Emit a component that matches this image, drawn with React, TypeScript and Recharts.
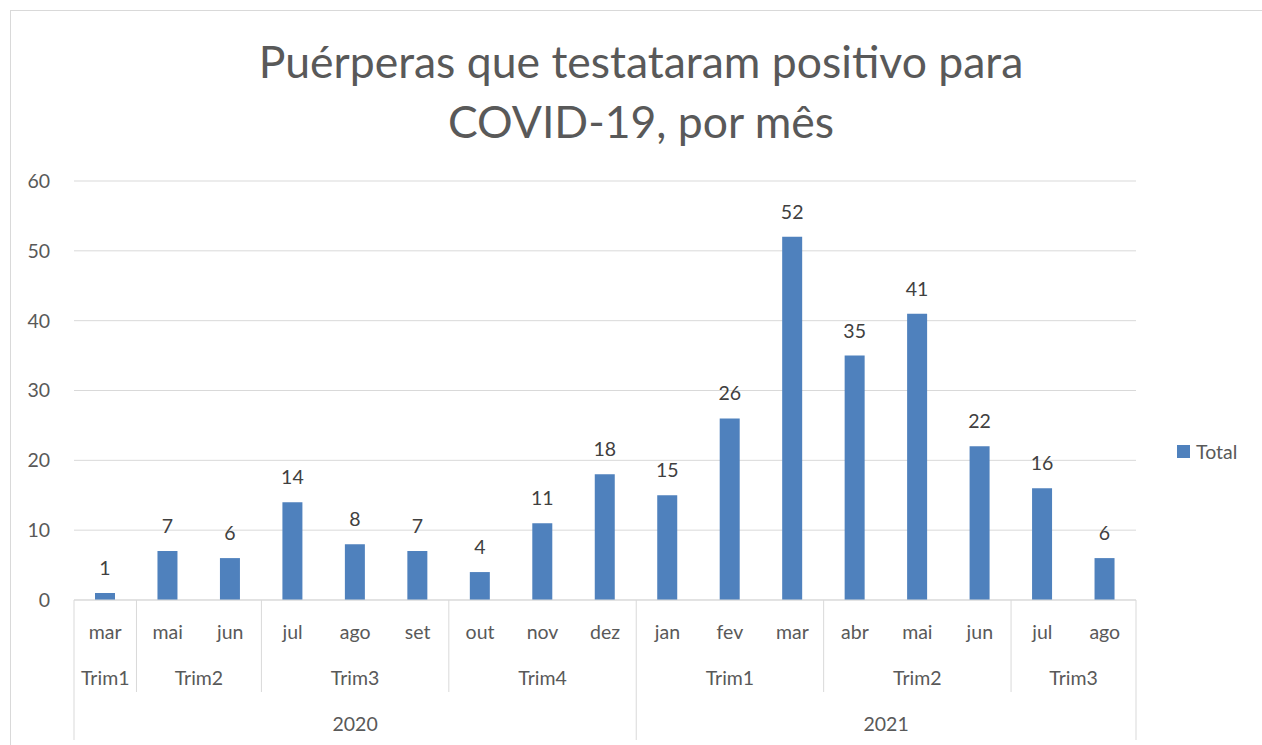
import { Bar, BarChart, CartesianGrid, LabelList, XAxis, YAxis } from "recharts";

const months = ["mar", "mai", "jun", "jul", "ago", "set", "out", "nov", "dez", "jan", "fev", "mar", "abr", "mai", "jun", "jul", "ago"];
const quarters = ["Trim1", "Trim2", "Trim2", "Trim3", "Trim3", "Trim3", "Trim4", "Trim4", "Trim4", "Trim1", "Trim1", "Trim1", "Trim2", "Trim2", "Trim2", "Trim3", "Trim3"];
const years = ["2020", "2020", "2020", "2020", "2020", "2020", "2020", "2020", "2020", "2021", "2021", "2021", "2021", "2021", "2021", "2021", "2021"];
const totals = [1, 7, 6, 14, 8, 7, 4, 11, 18, 15, 26, 52, 35, 41, 22, 16, 6];
const yTicks = [0, 10, 20, 30, 40, 50, 60];

const data = months.map((m, i) => ({ key: `${years[i]}-${quarters[i]}-${m}-${i}`, total: totals[i] }));

const FONT = "Lato, 'Open Sans', sans-serif";
const GRID = "#d9d9d9";
const TEXT = "#595959";

// length of a run of equal values starting at i
function runLength(arr: string[], i: number, parent?: string[]) {
  let n = 1;
  while (i + n < arr.length && arr[i + n] === arr[i] && (!parent || parent[i + n] === parent[i])) n++;
  return n;
}
function isStart(arr: string[], i: number, parent?: string[]) {
  return i === 0 || arr[i - 1] !== arr[i] || (parent ? parent[i - 1] !== parent[i] : false);
}

function MultiTick(props: any) {
  const { x, y, payload, index } = props;
  const off = payload.offset;
  const left = x - off;
  const qStart = isStart(quarters, index, years);
  const yStart = isStart(years, index);
  const last = index === months.length - 1;
  const txt = { fill: TEXT, fontSize: 19.5, fontFamily: FONT, textAnchor: "middle" as const, dominantBaseline: "central" as const };
  return (
    <g>
      <text x={x} y={y + 31} {...txt}>{months[index]}</text>
      {qStart && (
        <>
          <line x1={left} x2={left} y1={y} y2={y + (yStart ? 140 : 92)} stroke={GRID} />
          <text x={left + runLength(quarters, index, years) * off} y={y + 77} {...txt}>{quarters[index]}</text>
        </>
      )}
      {yStart && <text x={left + runLength(years, index) * off} y={y + 123} {...txt}>{years[index]}</text>}
      {last && <line x1={x + off} x2={x + off} y1={y} y2={y + 140} stroke={GRID} />}
    </g>
  );
}

export default function App() {
  return (
    <div style={{ position: "fixed", left: 0, top: 0, width: 1262, height: 745, overflow: "hidden", background: "#fff", fontFamily: FONT }}>
      <div style={{ position: "absolute", left: 10, top: 10, width: 1300, height: 800, border: `1px solid ${GRID}` }} />
      <div style={{ position: "absolute", left: 0, top: 31, width: 1282, textAlign: "center", color: TEXT, fontSize: 44.5, lineHeight: "60px" }}>
        Puérperas que testataram positivo para
        <br />
        COVID-19, por mês
      </div>
      <div style={{ position: "absolute", left: 0, top: 0 }}>
        <BarChart width={1262} height={745} data={data} margin={{ top: 181, right: 126, bottom: 0, left: 14 }}>
          <CartesianGrid vertical={false} stroke={GRID} />
          <XAxis
            dataKey="key"
            interval={0}
            height={145}
            tickSize={0}
            tickMargin={0}
            tickLine={false}
            axisLine={{ stroke: GRID }}
            tick={<MultiTick />}
          />
          <YAxis
            width={60}
            domain={[0, 60]}
            ticks={yTicks}
            axisLine={false}
            tickLine={false}
            tickMargin={18}
            tick={{ fill: TEXT, fontSize: 19.5, fontFamily: FONT }}
          />
          <Bar dataKey="total" fill="#4f81bd" barSize={20} isAnimationActive={false}>
            <LabelList dataKey="total" position="top" offset={18} fill="#404040" fontSize={19.5} fontFamily={FONT} />
          </Bar>
        </BarChart>
      </div>
      <div style={{ position: "absolute", left: 1177, top: 440, display: "flex", alignItems: "center", color: TEXT, fontSize: 19.5 }}>
        <span style={{ width: 13, height: 13, background: "#4f81bd", display: "inline-block", marginRight: 6 }} />
        Total
      </div>
    </div>
  );
}
